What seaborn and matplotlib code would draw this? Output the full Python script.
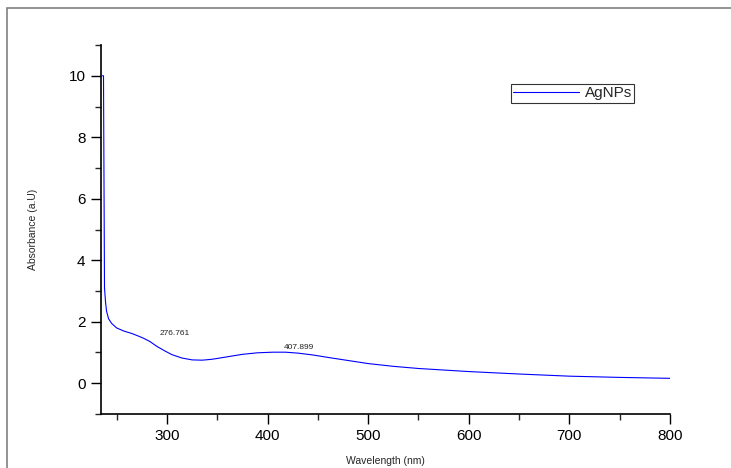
import matplotlib
matplotlib.use("Agg")
import matplotlib.pyplot as plt
from matplotlib.patches import Rectangle
from matplotlib.ticker import MultipleLocator
import pandas as pd
import seaborn as sns

# UV-Vis spectrum of AgNPs
wavelength = [236, 237, 238, 239, 240, 242, 245, 250, 257, 265, 272, 277, 283,
              290, 298, 305, 315, 325, 335, 345, 360, 375, 390, 405, 418, 430,
              445, 460, 480, 500, 525, 550, 575, 600, 650, 700, 750, 800]
absorbance = [10.0, 10.0, 3.1, 2.65, 2.35, 2.1, 1.95, 1.8, 1.7, 1.62, 1.53, 1.46, 1.36,
              1.2, 1.05, 0.93, 0.82, 0.76, 0.75, 0.78, 0.86, 0.94, 0.99, 1.01, 1.01, 0.98,
              0.92, 0.84, 0.74, 0.64, 0.55, 0.48, 0.43, 0.38, 0.30, 0.23, 0.19, 0.16]
peak_labels = ["276.761", "407.899"]
peak_text_x = [308, 431]
peak_text_y = [1.5, 1.04]

df = pd.DataFrame({"Wavelength": wavelength, "Absorbance": absorbance})

sns.set_style("ticks")
plt.rcParams["font.family"] = ["Liberation Sans", "DejaVu Sans"]

fig = plt.figure(figsize=(7.31, 4.68), dpi=100)
ax = fig.add_axes([0.138, 0.1154, 0.7786, 0.7884])

sns.lineplot(data=df, x="Wavelength", y="Absorbance", ax=ax, color="#0000ff",
             linewidth=0.8, label="AgNPs")

for txt, tx, ty in zip(peak_labels, peak_text_x, peak_text_y):
    ax.text(tx, ty, txt, fontsize=6, ha="center", va="bottom", color="#222222")

ax.set_xlim(234.4, 800)
ax.set_ylim(-1, 11)
ax.set_xticks([300, 400, 500, 600, 700, 800])
ax.set_yticks([0, 2, 4, 6, 8, 10])
ax.xaxis.set_minor_locator(MultipleLocator(50))
ax.yaxis.set_minor_locator(MultipleLocator(1))
ax.tick_params(which="major", direction="out", length=7, width=1, labelsize=11,
               colors="black", pad=4)
ax.tick_params(which="minor", direction="out", length=4, width=1)
for s in ["top", "right"]:
    ax.spines[s].set_visible(False)
for s in ["left", "bottom"]:
    ax.spines[s].set_linewidth(1.2)
    ax.spines[s].set_color("black")

ax.set_xlabel("Wavelength (nm)", fontsize=7.5, labelpad=9)
ax.set_ylabel("Absorbance (a.U)", fontsize=7.5, labelpad=22)

leg = ax.legend(loc="upper left", bbox_to_anchor=(0.72, 0.894), fontsize=11,
                frameon=True, fancybox=False, handlelength=4.3, borderpad=0.15,
                handletextpad=0.4, borderaxespad=0)
leg.get_frame().set_edgecolor("black")
leg.get_frame().set_linewidth(0.8)

# grey frame around the figure, as in the source screenshot
fig.patches.append(Rectangle((7 / 731, -0.1), 1.2, 1 - 8 / 468 + 0.1,
                             transform=fig.transFigure, fill=False,
                             edgecolor="#808080", linewidth=1.2))

fig.savefig("out.png", dpi=100)
